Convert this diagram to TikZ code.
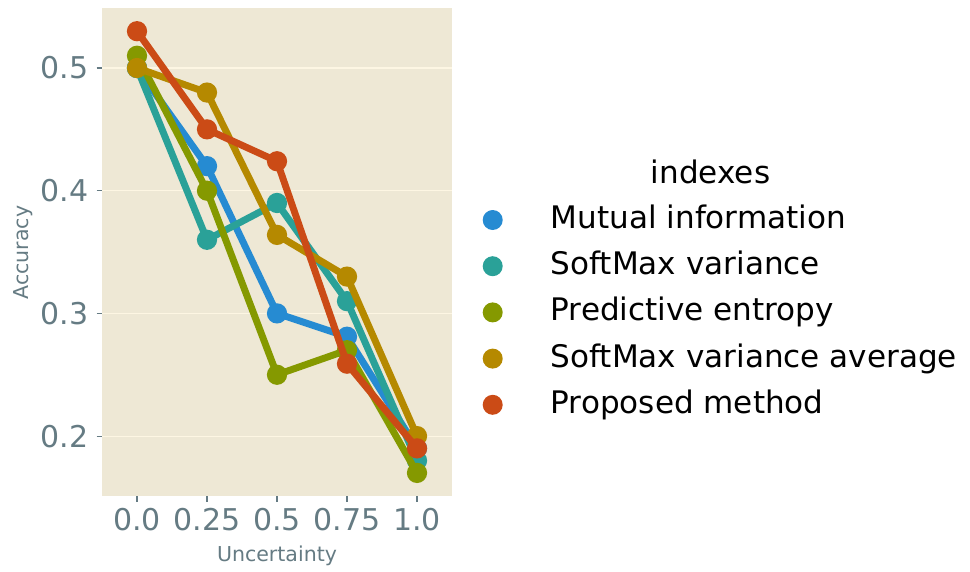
\documentclass[tikz,border=0pt]{standalone}
\usepackage{fontspec}
\setmainfont{DejaVu Sans}
\definecolor{panelbg}{HTML}{EEE8D5}
\definecolor{gridcol}{HTML}{FDF6E3}
\definecolor{axtext}{HTML}{657B83}
\definecolor{cmi}{HTML}{268BD2}
\definecolor{csv}{HTML}{2AA198}
\definecolor{cpe}{HTML}{859900}
\definecolor{csa}{HTML}{B58900}
\definecolor{cpm}{HTML}{CB4B16}
\begin{document}
\begin{tikzpicture}[x=0.75pt,y=-0.75pt,
  gridline/.style={gridcol,line width=0.9pt},
  tickmark/.style={axtext,line width=0.9pt},
  ticklabel/.style={text=axtext,inner sep=0pt,font=\fontsize{22.5}{26}\selectfont},
  axlabel/.style={text=axtext,inner sep=0pt,font=\fontsize{15.4}{18}\selectfont},
  series/.style={line width=5.2pt,line join=round,line cap=round},
  legfont/.style={text=black,inner sep=0pt,font=\fontsize{23.3}{27}\selectfont},
  legtext/.style={legfont,anchor=west}]
\useasboundingbox (0,0) rectangle (970,571);

% panel and horizontal grid
\fill[panelbg] (102,8) rectangle (452,496);
\foreach \v [count=\k] in {0.5,0.4,0.3,0.2} {
  \coordinate (gl\k) at (102,{68+(0.5-\v)*1227});
  \coordinate (gr\k) at (452,{68+(0.5-\v)*1227});
  \draw[gridline] (gl\k) -- (gr\k);
  \coordinate (tk\k) at (96.5,{68+(0.5-\v)*1227});
  \draw[tickmark] (tk\k) -- (gl\k);
  \node[ticklabel,anchor=east] (yl\k) at (88.5,{68+(0.5-\v)*1227}) {\v};
}

% x ticks
\foreach \lab [count=\i from 0] in {0.0,0.25,0.5,0.75,1.0} {
  \coordinate (xt\i) at ({137+70*\i},496);
  \coordinate (xb\i) at ({137+70*\i},501.5);
  \draw[tickmark] (xt\i) -- (xb\i);
  \node[ticklabel] (xl\i) at ({137+70*\i},520) {\lab};
}

\node[axlabel,anchor=base] (xlab) at (277,561.5) {Uncertainty};
\node[axlabel,anchor=base,rotate=90] (ylab) at (28.3,252.5) {Accuracy};

% data series
\foreach \s/\c/\va/\vb/\vc/\vd/\ve in {
  mi/cmi/0.50/0.42/0.30/0.281/0.19,
  sv/csv/0.50/0.36/0.39/0.31/0.18,
  pe/cpe/0.51/0.40/0.25/0.27/0.17,
  sa/csa/0.50/0.48/0.364/0.33/0.20,
  pm/cpm/0.53/0.45/0.424/0.259/0.19} {
  \foreach \v [count=\i from 0] in {\va,\vb,\vc,\vd,\ve}
    \coordinate (\s\i) at ({137+70*\i},{68+(0.5-\v)*1227});
  \draw[series,\c] (\s0) -- (\s1) -- (\s2) -- (\s3) -- (\s4);
  \foreach \i in {0,...,4}
    \fill[\c] (\s\i) circle (7.6pt);
}

% legend
\node[legfont] (legtitle) at (710.5,172) {indexes};
\foreach \c/\t [count=\i from 0] in {cmi/Mutual information,csv/SoftMax variance,cpe/Predictive entropy,csa/SoftMax variance average,cpm/Proposed method} {
  \coordinate (lm\i) at (492.7,{220+46.2*\i});
  \fill[\c] (lm\i) circle (7.5pt);
  \node[legtext] (lt\i) at (550.5,{220+46.2*\i}) {\vphantom{Ag}\t};
}
\end{tikzpicture}
\end{document}
